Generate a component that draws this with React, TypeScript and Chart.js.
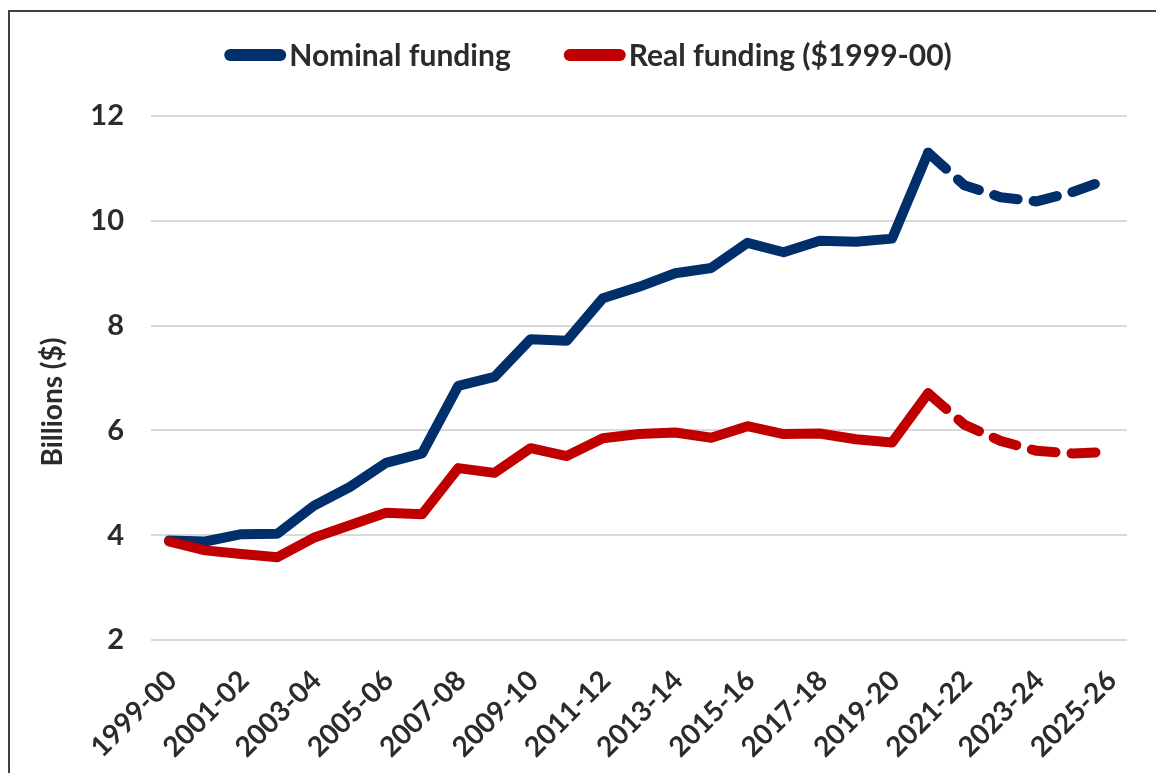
import React, { useEffect, useRef } from 'react';
import { Chart, registerables } from 'chart.js';

Chart.register(...registerables);

// ---- data ----
const years = [
  '1999-00', '2000-01', '2001-02', '2002-03', '2003-04', '2004-05', '2005-06',
  '2006-07', '2007-08', '2008-09', '2009-10', '2010-11', '2011-12', '2012-13',
  '2013-14', '2014-15', '2015-16', '2016-17', '2017-18', '2018-19', '2019-20',
  '2020-21', '2021-22', '2022-23', '2023-24', '2024-25', '2025-26',
];

const nominalFunding = [
  3.9, 3.88, 4.02, 4.03, 4.56, 4.92, 5.38, 5.56, 6.85, 7.02, 7.74, 7.71, 8.52, 8.74,
  9.0, 9.1, 9.58, 9.4, 9.62, 9.6, 9.66, 11.3, 10.68, 10.45, 10.37, 10.55, 10.8,
];

const realFunding = [
  3.88, 3.71, 3.64, 3.58, 3.95, 4.19, 4.43, 4.4, 5.28, 5.19, 5.66, 5.51, 5.85, 5.93,
  5.96, 5.86, 6.08, 5.93, 5.94, 5.83, 5.77, 6.71, 6.11, 5.8, 5.61, 5.56, 5.59,
];

const seriesLabels = ['Nominal funding', 'Real funding ($1999-00)'];
const yTicks = [2, 4, 6, 8, 10, 12];
const forecastFrom = '2020-21';
const yTitle = 'Billions ($)';

// ---- style ----
const BLUE = '#002F6C';
const RED = '#C00000';
const TEXT = '#2b2b2b';
const FONT = 'Lato';

const forecastIndex = years.indexOf(forecastFrom);
const DASH = [24, 16];

const customLegend = {
  id: 'customLegend',
  afterDraw(chart: any) {
    const ctx = chart.ctx;
    const items = chart.data.datasets.map((d: any) => ({ text: d.label, color: d.borderColor }));
    ctx.save();
    ctx.font = `bold 30px ${FONT}`;
    const sample = 62;
    const gap = 3;
    const itemGap = 53;
    const widths = items.map((it: any) => ctx.measureText(it.text).width);
    const total =
      widths.reduce((a: number, w: number) => a + sample + gap + w, 0) + itemGap * (items.length - 1);
    let x = 580 - total / 2;
    const y = 48;
    items.forEach((it: any, i: number) => {
      ctx.strokeStyle = it.color;
      ctx.lineWidth = 12;
      ctx.lineCap = 'round';
      ctx.beginPath();
      ctx.moveTo(x + 6, y - 1);
      ctx.lineTo(x + sample - 6, y - 1);
      ctx.stroke();
      ctx.fillStyle = TEXT;
      ctx.textBaseline = 'middle';
      ctx.textAlign = 'left';
      ctx.fillText(it.text, x + sample + gap, y);
      x += sample + gap + widths[i] + itemGap;
    });
    ctx.restore();
  },
};

const yAxisTitle = {
  id: 'yAxisTitle',
  afterDraw(chart: any) {
    const ctx = chart.ctx;
    ctx.save();
    ctx.translate(45, 394);
    ctx.rotate(-Math.PI / 2);
    ctx.font = `bold 28px ${FONT}`;
    ctx.fillStyle = TEXT;
    ctx.textAlign = 'center';
    ctx.textBaseline = 'middle';
    ctx.fillText(yTitle, 0, 0);
    ctx.restore();
  },
};

export default function App() {
  const canvasRef = useRef<HTMLCanvasElement | null>(null);

  useEffect(() => {
    if (!canvasRef.current) return;
    const dashSeg = (ctx: any) => (ctx.p0DataIndex >= forecastIndex ? DASH : undefined);
    const chart = new Chart(canvasRef.current, {
      type: 'line',
      data: {
        labels: years,
        datasets: [
          {
            label: seriesLabels[0],
            data: nominalFunding,
            borderColor: BLUE,
            backgroundColor: BLUE,
            borderWidth: 10,
            borderCapStyle: 'round',
            borderJoinStyle: 'round',
            pointRadius: 0,
            tension: 0,
            order: 1,
            segment: { borderDash: dashSeg },
          },
          {
            label: seriesLabels[1],
            data: realFunding,
            borderColor: RED,
            backgroundColor: RED,
            borderWidth: 10,
            borderCapStyle: 'round',
            borderJoinStyle: 'round',
            pointRadius: 0,
            tension: 0,
            order: 0,
            segment: { borderDash: dashSeg },
          },
        ],
      },
      options: {
        animation: false,
        responsive: true,
        maintainAspectRatio: false,
        layout: { padding: { top: 108, right: 29, bottom: 0, left: 0 } },
        plugins: {
          legend: { display: false },
          tooltip: { enabled: false },
          title: { display: false },
        },
        scales: {
          x: {
            type: 'category',
            offset: true,
            grid: { display: false, drawTicks: false },
            border: { display: false },
            ticks: {
              autoSkip: false,
              minRotation: 45,
              maxRotation: 45,
              padding: 24,
              labelOffset: 3,
              color: TEXT,
              font: { family: FONT, size: 28, weight: 'bold' },
              callback: (_v: any, i: number) => (i % 2 === 0 ? years[i] : ''),
            },
            afterFit: (s: any) => {
              s.height = 133;
              s.paddingLeft = 0;
              s.paddingRight = 0;
            },
          },
          y: {
            min: yTicks[0],
            max: yTicks[yTicks.length - 1],
            grid: { color: '#d9d9d9', lineWidth: 2, drawTicks: false },
            border: { display: false },
            ticks: {
              stepSize: yTicks[1] - yTicks[0],
              padding: 27,
              color: TEXT,
              font: { family: FONT, size: 29, weight: 'bold' },
            },
            afterFit: (s: any) => {
              s.width = 143;
            },
          },
        },
      },
      plugins: [customLegend, yAxisTitle],
    } as any);
    return () => chart.destroy();
  }, []);

  return (
    <>
      <div style={{ position: 'absolute', left: 8, top: 8, width: 1148, height: 765 }}>
        <canvas ref={canvasRef} />
      </div>
      <div
        style={{
          position: 'absolute',
          left: 8,
          top: 10,
          width: 1146,
          height: 761,
          borderLeft: '2px solid #404040',
          borderTop: '2px solid #404040',
          pointerEvents: 'none',
        }}
      />
    </>
  );
}
